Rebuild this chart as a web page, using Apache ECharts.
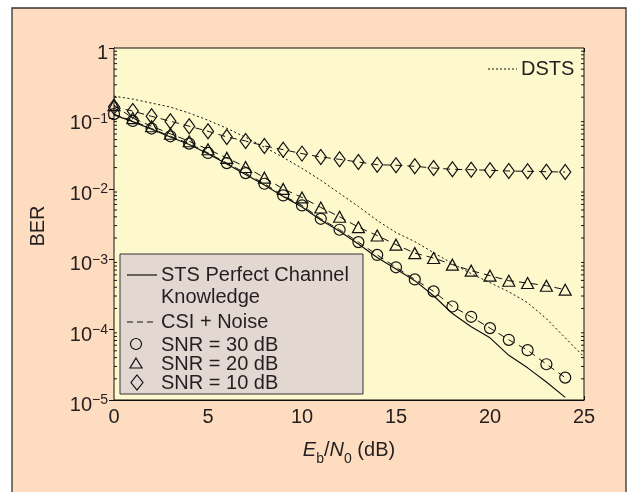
<!DOCTYPE html>
<html><head><meta charset="utf-8">
<script src="https://cdn.jsdelivr.net/npm/echarts@6/dist/echarts.min.js"></script>
<style>html,body{margin:0;padding:0;background:#fff}#c{width:635px;height:492px}</style>
</head><body><div id="c"></div>
<script>
// ---- data ----
const ebn0 = [0,1,2,3,4,5,6,7,8,9,10,11,12,13,14,15,16,17,18,19,20,21,22,23,24];
const ebn0Dsts = [0,1,2,3,4,5,6,7,8,9,10,11,12,13,14,15,16,17,18,19,20,21,22,23,24,25];
const stsPerfect = [0.112,0.090,0.070,0.0545,0.0425,0.0315,0.0225,0.016,0.0113,0.0078,0.0055,0.0036,0.0025,0.00165,0.00106,7.27e-4,4.96e-4,3.03e-4,1.69e-4,1.10e-4,7.64e-5,4.31e-5,2.86e-5,1.80e-5,1.09e-5];
const snr30 = [0.115,0.0921,0.0718,0.0557,0.0439,0.0323,0.0232,0.0167,0.0118,0.00805,0.0058,0.00375,0.00262,0.00175,0.00115,7.67e-4,5.16e-4,3.49e-4,2.13e-4,1.52e-4,1.05e-4,7.16e-5,5.10e-5,3.22e-5,2.08e-5];
const snr20 = [0.154,0.101,0.0774,0.0605,0.0473,0.0364,0.0275,0.0204,0.0144,0.00997,0.00754,0.00543,0.00401,0.00285,0.00217,0.00161,0.00122,0.00104,8.37e-4,6.88e-4,5.84e-4,4.95e-4,4.59e-4,4.2e-4,3.69e-4];
const snr10 = [0.146,0.127,0.107,0.0912,0.0774,0.0657,0.0545,0.0478,0.0406,0.036,0.0316,0.0283,0.0262,0.024,0.022,0.0216,0.0209,0.0197,0.0189,0.0187,0.0183,0.0179,0.0177,0.0175,0.0173];
const dsts = [0.207,0.188,0.165,0.145,0.119,0.0942,0.0725,0.054,0.0389,0.028,0.0195,0.0132,0.0086,0.00561,0.00355,0.00239,0.00178,0.00124,8.66e-4,6.23e-4,4.64e-4,3.45e-4,2.41e-4,1.43e-4,7.64e-5,4.1e-5];
const xTickLabels = ['0','5','10','15','20','25'];
const yTickExponents = [0,-1,-2,-3,-4,-5];
const legendLabels = ['STS Perfect Channel','Knowledge','CSI + Noise','SNR = 30 dB','SNR = 20 dB','SNR = 10 dB'];
const dstsLabel = 'DSTS';
const yTitle = 'BER';

// ---- styles ----
const FONT = '"Liberation Sans", Arial, Helvetica, sans-serif';
const TXT = '#231f20';
const INK = '#111';
const PEACH = '#fddcbf';
const PLOTBG = '#fef9cd';
const LEGBG = '#e3d7d2';

const zip = (xs, ys) => xs.map((x, i) => [x, ys[i]]);
const minorVals = [];
for (let e = -5; e < 0; e++) for (let k = 2; k <= 9; k++) minorVals.push(k * Math.pow(10, e));

function yLabel(v) {
  const e = Math.round(Math.log10(v));
  const found = yTickExponents.indexOf(e);
  if (found < 0) return '';
  if (e === 0) return '{m|1}';
  return '{m|10}{s|\u2212' + (-e) + '}';
}

const chart = echarts.init(document.getElementById('c'), null, {renderer: 'canvas'});
const grid = {left: 114, top: 48, width: 470, height: 352, show: true, backgroundColor: PLOTBG, borderColor: INK, borderWidth: 1, z: 1};

const markerStyle = {color: 'rgba(0,0,0,0)', borderColor: INK, borderWidth: 1.2};
const dashed = {color: INK, width: 1, type: [7, 5]};

const option = {
  animation: false,
  backgroundColor: '#ffffff',
  textStyle: {fontFamily: FONT},
  grid: grid,
  xAxis: [
    {type: 'value', min: 0, max: 25, interval: 5, position: 'bottom',
     axisLine: {lineStyle: {color: INK, width: 1}},
     axisTick: {inside: true, length: 4, lineStyle: {color: INK}},
     minorTick: {show: true, splitNumber: 2, length: 4, lineStyle: {color: INK}},
     splitLine: {show: false},
     axisLabel: {fontSize: 20, color: TXT, margin: 7, fontFamily: FONT,
       formatter: v => xTickLabels[Math.round(v / 5)] ?? ''}},
    {type: 'value', min: 0, max: 25, interval: 5, position: 'top',
     axisLine: {lineStyle: {color: INK, width: 1}},
     axisTick: {inside: true, length: 4, lineStyle: {color: INK}},
     minorTick: {show: true, splitNumber: 2, length: 4, lineStyle: {color: INK}},
     splitLine: {show: false}, axisLabel: {show: false}}
  ],
  yAxis: [
    {type: 'log', logBase: 10, min: 1e-5, max: 1, position: 'left',
     axisLine: {show: true, lineStyle: {color: INK, width: 1}},
     axisTick: {inside: true, length: 5, lineStyle: {color: INK}},
     splitLine: {show: false},
     axisLabel: {margin: 6, color: TXT, padding: [9, 0, 0, 0], formatter: yLabel,
       rich: {m: {fontSize: 20, lineHeight: 22, verticalAlign: 'bottom', fontFamily: FONT, color: TXT},
              s: {fontSize: 14, lineHeight: 14, verticalAlign: 'top', fontFamily: FONT, color: TXT}}}},
    {type: 'log', logBase: 10, min: 1e-5, max: 1, position: 'right',
     axisLine: {show: true, lineStyle: {color: INK, width: 1}},
     axisTick: {inside: true, length: 5, lineStyle: {color: INK}},
     splitLine: {show: false}, axisLabel: {show: false}}
  ],
  series: [
    {type: 'custom', name: 'minorTicks', silent: true, clip: false, z: 3,
     data: minorVals.map(v => [0, v]),
     renderItem: (params, api) => {
       const v = api.value(1);
       const a = api.coord([0, v]);
       const b = api.coord([25, v]);
       return {type: 'group', children: [
         {type: 'line', shape: {x1: a[0], y1: a[1], x2: a[0] + 3, y2: a[1]}, style: {stroke: INK, lineWidth: 1}},
         {type: 'line', shape: {x1: b[0] - 3, y1: b[1], x2: b[0], y2: b[1]}, style: {stroke: INK, lineWidth: 1}}
       ]};
     }},
    {type: 'line', name: 'DSTS', data: zip(ebn0Dsts, dsts), symbol: 'none', z: 4,
     lineStyle: {color: INK, width: 1, type: [2, 2.5]}, emphasis: {disabled: true}},
    {type: 'line', name: 'STS Perfect Channel Knowledge', data: zip(ebn0, stsPerfect), symbol: 'none', z: 4,
     lineStyle: {color: INK, width: 1.2}, emphasis: {disabled: true}},
    {type: 'line', name: 'SNR = 30 dB', data: zip(ebn0, snr30), symbol: 'circle', symbolSize: 11, showAllSymbol: true, z: 5,
     itemStyle: markerStyle, lineStyle: dashed, emphasis: {disabled: true}},
    {type: 'line', name: 'SNR = 20 dB', data: zip(ebn0, snr20), symbol: 'triangle', symbolSize: [12, 11], showAllSymbol: true, z: 5,
     itemStyle: markerStyle, lineStyle: dashed, emphasis: {disabled: true}},
    {type: 'line', name: 'SNR = 10 dB', data: zip(ebn0, snr10), symbol: 'diamond', symbolSize: [11, 15], showAllSymbol: true, z: 5,
     itemStyle: markerStyle, lineStyle: dashed, emphasis: {disabled: true}}
  ],
  graphic: [
    // outer frame
    {type: 'rect', z: -100, silent: true, shape: {x: 12, y: 8, width: 614, height: 500},
     style: {fill: PEACH, stroke: '#333', lineWidth: 1.3}},
    // DSTS legend (top right)
    {type: 'line', z: 100, shape: {x1: 488, y1: 69, x2: 517, y2: 69}, style: {stroke: INK, lineWidth: 1, lineDash: [2, 2]}},
    {type: 'text', z: 100, x: 521, y: 69, style: {text: dstsLabel, fontSize: 20, fontFamily: FONT, fill: TXT, align: 'left', verticalAlign: 'middle'}},
    // main legend box
    {type: 'rect', z: 100, shape: {x: 120, y: 254, width: 243, height: 140}, style: {fill: LEGBG, stroke: '#333', lineWidth: 1}},
    {type: 'line', z: 101, shape: {x1: 127, y1: 275, x2: 157, y2: 275}, style: {stroke: INK, lineWidth: 1.2}},
    {type: 'text', z: 101, x: 161, y: 275, style: {text: legendLabels[0], fontSize: 20, fontFamily: FONT, fill: TXT, align: 'left', verticalAlign: 'middle'}},
    {type: 'text', z: 101, x: 161, y: 297, style: {text: legendLabels[1], fontSize: 20, fontFamily: FONT, fill: TXT, align: 'left', verticalAlign: 'middle'}},
    {type: 'line', z: 101, shape: {x1: 127, y1: 322, x2: 157, y2: 322}, style: {stroke: INK, lineWidth: 1, lineDash: [6, 4]}},
    {type: 'text', z: 101, x: 161, y: 322, style: {text: legendLabels[2], fontSize: 20, fontFamily: FONT, fill: TXT, align: 'left', verticalAlign: 'middle'}},
    {type: 'circle', z: 101, shape: {cx: 136, cy: 344, r: 5.5}, style: {fill: 'none', stroke: INK, lineWidth: 1.2}},
    {type: 'text', z: 101, x: 161, y: 345, style: {text: legendLabels[3], fontSize: 20, fontFamily: FONT, fill: TXT, align: 'left', verticalAlign: 'middle'}},
    {type: 'polygon', z: 101, shape: {points: [[136, 358], [142, 368], [130, 368]]}, style: {fill: 'none', stroke: INK, lineWidth: 1.2}},
    {type: 'text', z: 101, x: 161, y: 364, style: {text: legendLabels[4], fontSize: 20, fontFamily: FONT, fill: TXT, align: 'left', verticalAlign: 'middle'}},
    {type: 'polygon', z: 101, shape: {points: [[137, 375], [143, 382.5], [137, 390], [131, 382.5]]}, style: {fill: 'none', stroke: INK, lineWidth: 1.2}},
    {type: 'text', z: 101, x: 161, y: 383, style: {text: legendLabels[5], fontSize: 20, fontFamily: FONT, fill: TXT, align: 'left', verticalAlign: 'middle'}},
    // axis titles
    {type: 'text', z: 100, x: 349, y: 459,
     style: {text: '{i|E}{s|b}{n|/}{i|N}{s|0}{n| (dB)}', align: 'center', verticalAlign: 'middle', fill: TXT, fontFamily: FONT, fontSize: 20,
       rich: {i: {fontStyle: 'italic', fontSize: 20, lineHeight: 22, verticalAlign: 'top', fontFamily: FONT},
              n: {fontSize: 20, lineHeight: 22, verticalAlign: 'top', fontFamily: FONT},
              s: {fontSize: 14, lineHeight: 38, verticalAlign: 'middle', fontFamily: FONT}}}},
    {type: 'text', z: 100, x: 38, y: 226, rotation: Math.PI / 2,
     style: {text: yTitle, fontSize: 20, fontFamily: FONT, fill: TXT, align: 'center', verticalAlign: 'middle'}}
  ]
};
chart.setOption(option);
</script>
</body></html>
